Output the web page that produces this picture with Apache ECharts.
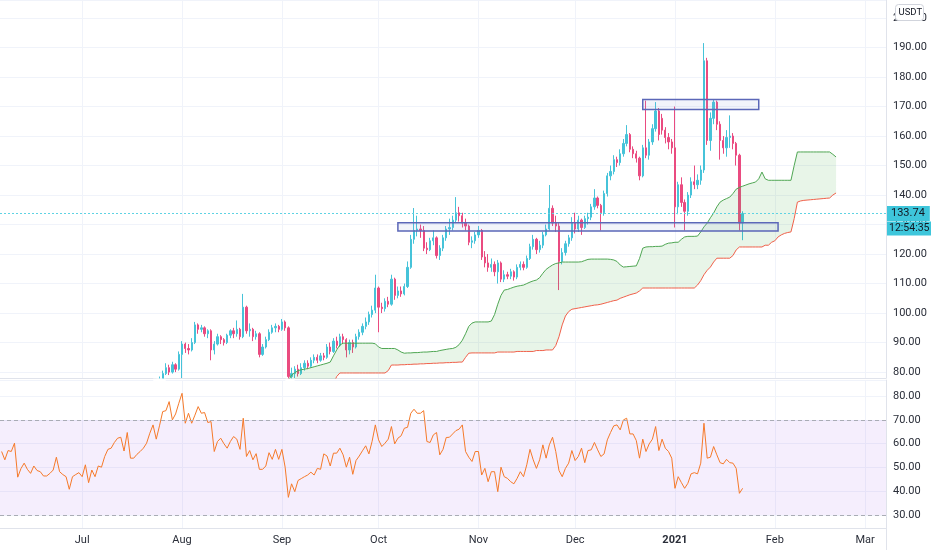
<!DOCTYPE html>
<html>
<head>
<meta charset="utf-8">
<script src="https://cdn.jsdelivr.net/npm/echarts@6/dist/echarts.min.js"></script>
<style>html,body{margin:0;padding:0;background:#fff;}#c{width:932px;height:550px;}</style>
</head>
<body>
<div id="c"></div>
<script>
// ---- axis range (daily categories) ----
const axisFirstDay = '2020-06-06';
const axisDayCount = 275;
const monthNames = ['Jan','Feb','Mar','Apr','May','Jun','Jul','Aug','Sep','Oct','Nov','Dec'];

// ---- candles [open, close, low, high], daily from candleStart ----
const candleStart = '2020-07-24';
const candles = [
[74,76,73.5,77],[76,77,75.5,78.5],[77,79.5,76.5,80.5],[79.5,81.5,79,83],[81.5,80,79,82.5],
[80,82.5,79.5,83.5],[82.5,81,80,83],[81,86,80.5,87],[86,89.5,78,90.5],[89.5,88,86.5,90],
[88,87.5,86,89.5],[87.5,90,87,91.5],[90,96,89.5,97],[96,94.5,93,96.5],[94.5,95,93.5,96],
[95,93,92,95.5],[93,94,91.5,94.5],[94,87.5,84,94.5],[87.5,89.5,86,90.5],[89.5,92,89,93],
[92,91,89.5,92.5],[91,90,89,91.5],[90,92.5,89.5,93],[92.5,94,91.5,94.5],[94,93,91.5,95],
[93,94.5,92,97.5],[94.5,92,91,95],[92,102,91.5,106.5],[102,94,93,102.5],[94,94.5,92,96.5],
[94.5,92,90.5,95],[92,93,91,94],[93,86,85,93.5],[86,88.5,85.5,89.5],[88.5,91,88,92],
[91,93.5,90.5,94.5],[93.5,95,93,96],[95,95.5,93.5,96.5],[95.5,94.5,93.5,96],[94.5,97,94,98],
[97,95,94,97.5],[95,78.5,77,95.5],[78.5,79.5,76,81.5],[79.5,81,78,82],[81,79.5,78.5,82.5],
[79.5,81.5,79,83],[81.5,83,80.5,84],[83,82,81,84],[82,84,81.5,85],[84,85,83,86],
[85,84,83,86],[84,85.5,83.5,86.5],[85.5,85,84,86.5],[85,88.5,84.5,89.5],[88.5,87,86,90],
[87,90.5,86.5,91.5],[90.5,89,88,92],[89,92,88.5,93],[92,91,89.5,93],[91,87.5,85,91.5],
[87.5,90,86,91],[90,88.5,86.5,91],[88.5,92,88,93],[92,93.5,91,94.5],[93.5,95.5,92.5,96.5],
[95.5,97,94.5,98.5],[97,99.5,96,100.5],[99.5,101,98.5,102.5],[101,108.5,100,113],[108.5,102,93.5,109],
[102,101.5,100,103.5],[101.5,104,100.5,105],[104,103,102,105.5],[103,111.5,102.5,113],[111.5,106,104.5,112],
[106,107.5,105,109],[107.5,106.5,105.5,109],[106.5,109,106,110],[109,115.5,108.5,117.5],[115.5,125,115,126.5],
[125,128,123.5,135.6],[128,128.5,126,133],[128.5,128,125.5,130],[128,122,121,129.5],[122,121.5,120,124],
[121.5,124.5,121,125.5],[124.5,125.5,123,128],[125.5,119.5,118.5,126],[119.5,122,118,123],[122,125.5,121,126.5],
[125.5,128.5,124.5,129.5],[128.5,129,126.5,132],[129,131.5,128,133],[131.5,134,130.5,139.3],[134,133,131,136],
[133,130.5,129,134],[130.5,129.5,128,132],[129.5,124,123,130],[124,124.5,122,126],[124.5,126.5,123.5,127.5],
[126.5,128,125.5,129.5],[128,119,118,128.5],[119,117,115.5,121],[117,115.5,114,120],[115.5,116.5,114,118.5],
[116.5,114,112.5,117.5],[114,117,110,118],[117,111.5,110.5,117.5],[111.5,113,110.5,114.5],[113,112.5,111.5,114],
[112.5,114,111.5,115],[114,112.2,111,114.5],[112.2,115.5,111.5,116.5],[115.5,116.5,114.5,117.5],[116.5,115.5,114.5,117.5],
[115.5,118.5,115,119.5],[118.5,122.5,118,123.5],[122.5,125,121.5,126.5],[125,121.5,120,125.5],[121.5,123,120.5,124.5],
[123,126.5,122,127.5],[126.5,128.5,126,130],[128.5,135.5,128,143.4],[135.5,130.5,129.5,136.5],[130.5,129.5,127.5,133],
[129.5,117.5,107.8,130.5],[117.5,120.5,116.5,122],[120.5,123.5,119.5,124.5],[123.5,125.5,122.5,126.5],[125.5,130.5,124.5,132.5],
[130.5,128.5,127,134],[128.5,131.5,127.5,133],[131.5,129,126.5,132],[129,132,128.5,133],[132,132.5,130,134],
[132.5,136,131.5,137],[136,139,135,142],[139,136.5,135.5,139.5],[136.5,134,128,137],[134,140.5,133,141.5],
[140.5,146.5,139.5,147.5],[146.5,148,145,150],[148,152,147,153.5],[152,151,149.5,153],[151,154,150,155.5],
[154,157.5,153,159],[157.5,160.5,156.5,163.7],[160.5,155.5,154.5,161],[155.5,154,152.5,156.5],[154,152.5,151,155],
[152.5,146.5,145,153],[146.5,156,146,157],[156,153.5,152.5,172],[153.5,158,152,159],[158,162.5,157,164],
[162.5,168.5,161.5,171.5],[168.5,160.5,158.5,169.5],[166,162,160.5,167.5],[162,159.5,157.5,163],[159.5,158,155.5,161],
[158,156,154,159],[156,136,129,170],[136,143.5,133.5,144.5],[143.5,137.5,136,146],[137.5,134.5,128,138.5],
[134.5,140,133,141],[140,144.5,139,146],[144.5,143.5,142,150],[143.5,145,142,147],[145,148.5,143.5,150],
[148.5,185.5,147.5,191.5],[185.5,158.5,157,186.5],[158.5,166,155,168],[166,171.5,164,172.5],[171.5,164,162,172],
[164,158.5,152,165],[158.5,156,154,160],[156,159.5,153,162],[159.5,160,156,167],[160,157.5,155.5,161],
[157.5,153.5,150,158],[153.5,130.5,128,154],[130.5,133.74,124.7,134.5]
];

// ---- Ichimoku cloud lines, daily from cloudStart ----
const cloudStart = '2020-09-02';
const leadA = [
75,77,79,79.8,80.5,
80.8,81,81.2,81.5,81.8,82.1,82.4,82.7,83,83.4,
85.5,87.5,89.2,89.8,
89.8,89.8,89.8,89.8,89.8,89.8,89.8,89.8,89.8,
89.6,88.5,88,88,88,88,88,
87.5,86.8,86.4,86.5,86.5,86.6,86.6,86.7,86.8,86.8,86.9,87,87,
87.3,87.5,87.7,87.9,88,88.4,89.3,90.8,93,95.5,96.6,
97,97,97,97,97,97.3,
99.5,103,106,107.8,108,108.4,108.8,109.1,109.3,109.5,
110,110.5,110.9,111.2,112,113.5,114.8,115.6,116.3,116.8,117,
117.3,117.3,117.3,117.3,117.3,117.3,117.4,117.8,118.2,
118.3,118.3,118.3,118.3,118.3,118.3,118.2,118,
117.5,116.3,115.6,115.7,115.8,115.9,116,
118.5,122,122.4,122.5,122.5,122.6,122.6,122.7,
123.3,123.7,123.8,124,124,125,125.8,126,126,126,126.1,
127.5,129.2,130.5,132.3,133.9,136,137.6,138.3,138.8,139.3,
140.5,142,142.6,143,143.4,143.8,144.1,144.4,145.5,147.8,
145.5,145,145,145,145,145,145,145,145,
150,154.6,154.6,154.6,154.6,154.6,154.6,154.6,154.6,154.6,154.6,154.6,
153.8,152.9
];
const leadB = [
76,76,76,76,76,76,76,76,76,76,76,76,76,76,76,76,
78.5,
79.7,79.7,79.7,79.7,79.7,79.7,79.7,79.7,79.7,79.7,79.7,79.7,79.7,79.7,79.7,
80.5,82.4,
82.4,82.4,82.5,82.5,82.6,82.6,82.7,82.7,82.8,82.8,82.9,82.9,83,83,83.1,83.1,83.2,83.2,83.3,83.3,83.4,83.4,
85,86.4,
86.5,86.5,86.5,86.5,86.5,86.5,86.5,86.5,86.8,86.8,86.8,86.8,86.8,86.8,87,87,87,87,87,87,87.3,87.3,87.3,87.5,87.5,87.5,
89,92,96,99,100.5,
101.3,101.5,101.7,101.9,102.1,102.3,102.5,102.7,102.8,103,103.3,103.6,103.9,104.2,104.4,
105,105.4,105.8,106.2,106.5,106.8,107.5,
108.5,108.5,108.5,108.5,108.5,108.5,108.5,108.5,108.5,108.5,108.5,108.5,108.5,108.5,108.5,108.5,108.5,
109.5,111,113,114.5,115.6,117.3,
118.6,118.6,118.6,118.6,118.6,
119.5,121.4,
122.4,122.4,122.4,122.4,122.4,122.4,122.4,122.4,
123,123,124,124.5,125.8,126.5,127,127.3,127.5,
132,137.6,138,
138.2,138.3,138.4,138.5,138.6,138.7,138.8,138.9,139,
140,140.7
];

// ---- RSI, daily from rsiStart ----
const rsiStart = '2020-06-06';
const rsi = [
56.7,53.2,57.1,56.7,60.2,45.9,49.5,51.8,49.2,47.5,
50.6,48.7,48.2,46.4,46.4,47.5,48.9,54.3,48.2,47,
46.1,40.8,46.1,47,47.8,46.1,51.1,43.6,48.9,46.1,
50.6,50.1,54.6,57.6,58.1,60.5,62.3,62.7,56.9,64.7,
53.9,53.9,55.5,56.7,58.1,60.2,64.4,67.9,61.9,67.5,
73.5,73.9,77.7,70,72.5,77,81.2,68.6,72.8,68.6,
72,75.6,72.8,73.1,68.9,69.3,56.7,60.9,62.3,60,
58.1,60.9,63,61.9,57.6,70.7,54.6,57.1,53.2,55.8,
49.2,49.2,50.6,56.2,53.4,57.6,53.4,57.6,50.1,37.4,
43.1,39.8,44.5,
45.3,46.1,46.8,48,46.8,49.6,49.2,55.7,
54.8,50.6,56,56,58.1,55.3,50.1,54.3,47.1,52.9,
54.8,57,59.1,55.7,61,67.9,61.6,58.8,60.2,61.9,
67.2,59.9,62.3,63.3,66.5,66.9,72.8,74.5,72.8,72.8,
73.9,60.9,60.5,63.7,64.7,55.3,57.6,62.6,62.7,64.1,
65.5,66.1,67.9,56.7,54.3,52.5,56.7,56.7,46.8,49.6,
44,48.2,48.2,39.8,50.1,46.1,45.4,44,43.1,45.4,
48.2,46.1,51.1,57.6,53.2,49.6,53.2,59.5,53.9,59.5,
62.7,56.7,48.7,46.1,49.6,51.8,57.1,52.9,54.6,58.1,
52,57.1,57.4,60.5,57.4,54.6,
55.7,61.6,64.7,67.5,67.9,65.8,70,70.7,64.1,64.1,
61.3,53.9,61.9,56.7,59.9,61.9,67.2,57.1,61.9,58.1,
56.7,53.9,41.2,46.1,43.6,41.2,43.3,47.3,47.8,47.3,
51.8,68.6,53.9,54.3,58.8,55.3,52,51.5,53.4,52,
51.8,49.6,39.1,41.2
];

// ---- drawn zones (rectangles) ----
const zoneFrom   = ['2020-10-07', '2020-12-22'];
const zoneTo     = ['2021-02-02', '2021-01-27'];
const zoneTop    = [130.6, 172.4];
const zoneBottom = [127.8, 169.0];

// ---- last price ----
const lastPrice = 133.74;
const lastPriceText = '133.74';
const countdownText = '12:54:35';
const quoteCurrency = 'USDT';

// ---- pane ranges ----
const priceMin = 78, priceMax = 206.1;
const rsiMin = 24.5, rsiMax = 86.8;

// ---- build categories ----
const categories = [];
{
  const p = axisFirstDay.split('-').map(Number);
  for (let i = 0; i < axisDayCount; i++) {
    const d = new Date(Date.UTC(p[0], p[1] - 1, p[2] + i));
    categories.push(d.toISOString().slice(0, 10));
  }
}
function pairs(start, arr) {
  const s = categories.indexOf(start);
  return arr.map((v, k) => [categories[s + k], v]);
}
const cs = categories.indexOf(candleStart);
const candleData = candles.map((r, k) => [categories[cs + k], r[0], r[1], r[2], r[3]]);
const cloudBase = pairs(cloudStart, leadB);
const cloudThick = pairs(cloudStart, leadA.map((a, k) => a - leadB[k]));

const UP = '#46c3d9', DOWN = '#ea4b80';
const TXT = '#2a2e39';
const GRIDC = '#f0f3fa';
const AXISC = '#e0e3eb';
const FONT = 'Roboto, sans-serif';
const isMonthStart = (idx, v) => v.slice(8, 10) === '01';
const fmtX = v => { const m = +v.slice(5, 7); return m === 1 ? '{y|' + v.slice(0, 4) + '}' : monthNames[m - 1]; };

const chart = echarts.init(document.getElementById('c'), null, { renderer: 'canvas' });

const option = {
  animation: false,
  backgroundColor: '#ffffff',
  textStyle: { fontFamily: FONT },
  grid: [
    { left: 0, top: 0, width: 886, height: 378 },
    { left: 0, top: 380, width: 886, height: 148 }
  ],
  xAxis: [
    {
      type: 'category', gridIndex: 0, data: categories, boundaryGap: true,
      axisLine: { show: true, lineStyle: { color: AXISC } },
      axisTick: { show: false }, axisLabel: { show: false },
      splitLine: { show: true, interval: isMonthStart, alignWithLabel: true, lineStyle: { color: GRIDC } }
    },
    {
      type: 'category', gridIndex: 1, data: categories, boundaryGap: true,
      axisLine: { show: true, lineStyle: { color: AXISC } },
      axisTick: { show: false, alignWithLabel: true },
      axisLabel: {
        interval: isMonthStart, formatter: fmtX, color: TXT, fontSize: 11, margin: 7, fontFamily: FONT,
        rich: { y: { fontWeight: 'bold', fontSize: 11, color: TXT, fontFamily: FONT } }
      },
      splitLine: { show: true, interval: isMonthStart, alignWithLabel: true, lineStyle: { color: GRIDC } }
    }
  ],
  yAxis: [
    {
      type: 'value', gridIndex: 0, position: 'right', min: priceMin, max: priceMax,
      splitNumber: 13, minInterval: 10, maxInterval: 10, scale: true,
      axisLine: { show: true, lineStyle: { color: AXISC } }, axisTick: { show: false },
      axisLabel: { formatter: v => v.toFixed(2), showMinLabel: false, showMaxLabel: false, margin: 7, color: TXT, fontSize: 11, fontFamily: FONT },
      splitLine: { show: true, lineStyle: { color: GRIDC } }
    },
    {
      type: 'value', gridIndex: 1, position: 'right', min: rsiMin, max: rsiMax,
      splitNumber: 6, minInterval: 10, maxInterval: 10, scale: true,
      axisLine: { show: true, lineStyle: { color: AXISC } }, axisTick: { show: false },
      axisLabel: { formatter: v => v.toFixed(2), showMinLabel: false, showMaxLabel: false, margin: 7, color: TXT, fontSize: 11, fontFamily: FONT },
      splitLine: { show: true, lineStyle: { color: GRIDC } }
    }
  ],
  series: [
    {
      name: 'cloudBase', type: 'line', xAxisIndex: 0, yAxisIndex: 0, data: cloudBase, stack: 'cloud',
      symbol: 'none', lineStyle: { opacity: 0 }, silent: true, emphasis: { disabled: true }, clip: true
    },
    {
      name: 'cloudFill', type: 'line', xAxisIndex: 0, yAxisIndex: 0, data: cloudThick, stack: 'cloud',
      symbol: 'none', lineStyle: { opacity: 0 }, areaStyle: { color: 'rgba(76,175,80,0.13)', opacity: 1 },
      silent: true, emphasis: { disabled: true }, clip: true
    },
    {
      name: 'Lead 1', type: 'line', xAxisIndex: 0, yAxisIndex: 0, data: pairs(cloudStart, leadA),
      symbol: 'none', lineStyle: { color: '#4fa653', width: 1 }, silent: true, clip: true,
      markLine: {
        silent: true, symbol: ['none', 'none'], z: 6,
        lineStyle: { type: [2, 2], color: '#5fd3e3', width: 1, opacity: 1 },
        label: {
          show: true, position: 'end', distance: 1, formatter: lastPriceText,
          backgroundColor: '#3ec6db', color: '#131722', fontSize: 11, fontFamily: FONT, padding: [2, 5, 2, 4]
        },
        emphasis: { disabled: true },
        data: [{ yAxis: lastPrice }]
      }
    },
    {
      name: 'Lead 2', type: 'line', xAxisIndex: 0, yAxisIndex: 0, data: pairs(cloudStart, leadB),
      symbol: 'none', lineStyle: { color: '#f0604a', width: 1 }, silent: true, clip: true
    },
    {
      name: 'price', type: 'candlestick', xAxisIndex: 0, yAxisIndex: 0, data: candleData, z: 2,
      encode: { x: 0, y: [1, 2, 3, 4] }, barWidth: 1.8, clip: true,
      itemStyle: { color: UP, color0: DOWN, borderColor: UP, borderColor0: DOWN, borderWidth: 1 },
      markArea: {
        silent: true, z: 10,
        itemStyle: { color: 'rgba(150,165,215,0.12)', borderColor: '#5b67b8', borderWidth: 1.5 },
        label: { show: false },
        data: zoneFrom.map((f, k) => [{ xAxis: f, yAxis: zoneTop[k] }, { xAxis: zoneTo[k], yAxis: zoneBottom[k] }])
      }
    },
    {
      name: 'RSI', type: 'line', xAxisIndex: 1, yAxisIndex: 1, data: pairs(rsiStart, rsi), z: 4,
      symbol: 'none', lineStyle: { color: '#f57a2a', width: 1 }, silent: true,
      markArea: {
        silent: true, itemStyle: { color: 'rgba(155,90,240,0.1)' }, label: { show: false },
        data: [[{ yAxis: 70 }, { yAxis: 30 }]]
      },
      markLine: {
        silent: true, symbol: ['none', 'none'], label: { show: false },
        lineStyle: { type: [4, 3], color: '#a9acb5', width: 1 },
        data: [{ yAxis: 70 }, { yAxis: 30 }]
      }
    }
  ]
};
chart.setOption(option);

// pane clipping for candle wicks that run below the price pane
const paneBottom = chart.convertToPixel({ yAxisIndex: 0 }, priceMin);
const covers = [];
candleData.forEach(r => {
  if (r[3] < priceMin) {
    const px = chart.convertToPixel({ xAxisIndex: 0 }, r[0]);
    const pl = chart.convertToPixel({ yAxisIndex: 0 }, r[3]);
    covers.push({ type: 'rect', shape: { x: px - 3, y: paneBottom + 0.6, width: 6, height: pl - paneBottom + 1 },
      style: { fill: '#ffffff' }, silent: true, z: 3 });
  }
});

const py = chart.convertToPixel({ yAxisIndex: 0 }, lastPrice);
chart.setOption({
  graphic: covers.concat([
    { type: 'line', shape: { x1: 886.5, y1: 528, x2: 886.5, y2: 550 }, style: { stroke: AXISC, lineWidth: 1 }, silent: true },
    { type: 'rect', shape: { x: 887, y: py + 8, width: 44, height: 14 }, style: { fill: '#3ec6db' }, silent: true, z: 20 },
    { type: 'text', x: 889, y: py + 9.5, style: { text: countdownText, fill: '#131722', fontSize: 10.5, fontFamily: FONT }, silent: true, z: 21 },
    { type: 'rect', shape: { x: 895.5, y: 4.5, width: 28, height: 16, r: 3 }, style: { fill: '#ffffff', stroke: '#d1d4dc', lineWidth: 1 }, silent: true, z: 20 },
    { type: 'text', x: 898.5, y: 7.5, style: { text: quoteCurrency, fill: '#131722', fontSize: 9.5, fontFamily: FONT }, silent: true, z: 21 }
  ])
});
</script>
</body>
</html>
